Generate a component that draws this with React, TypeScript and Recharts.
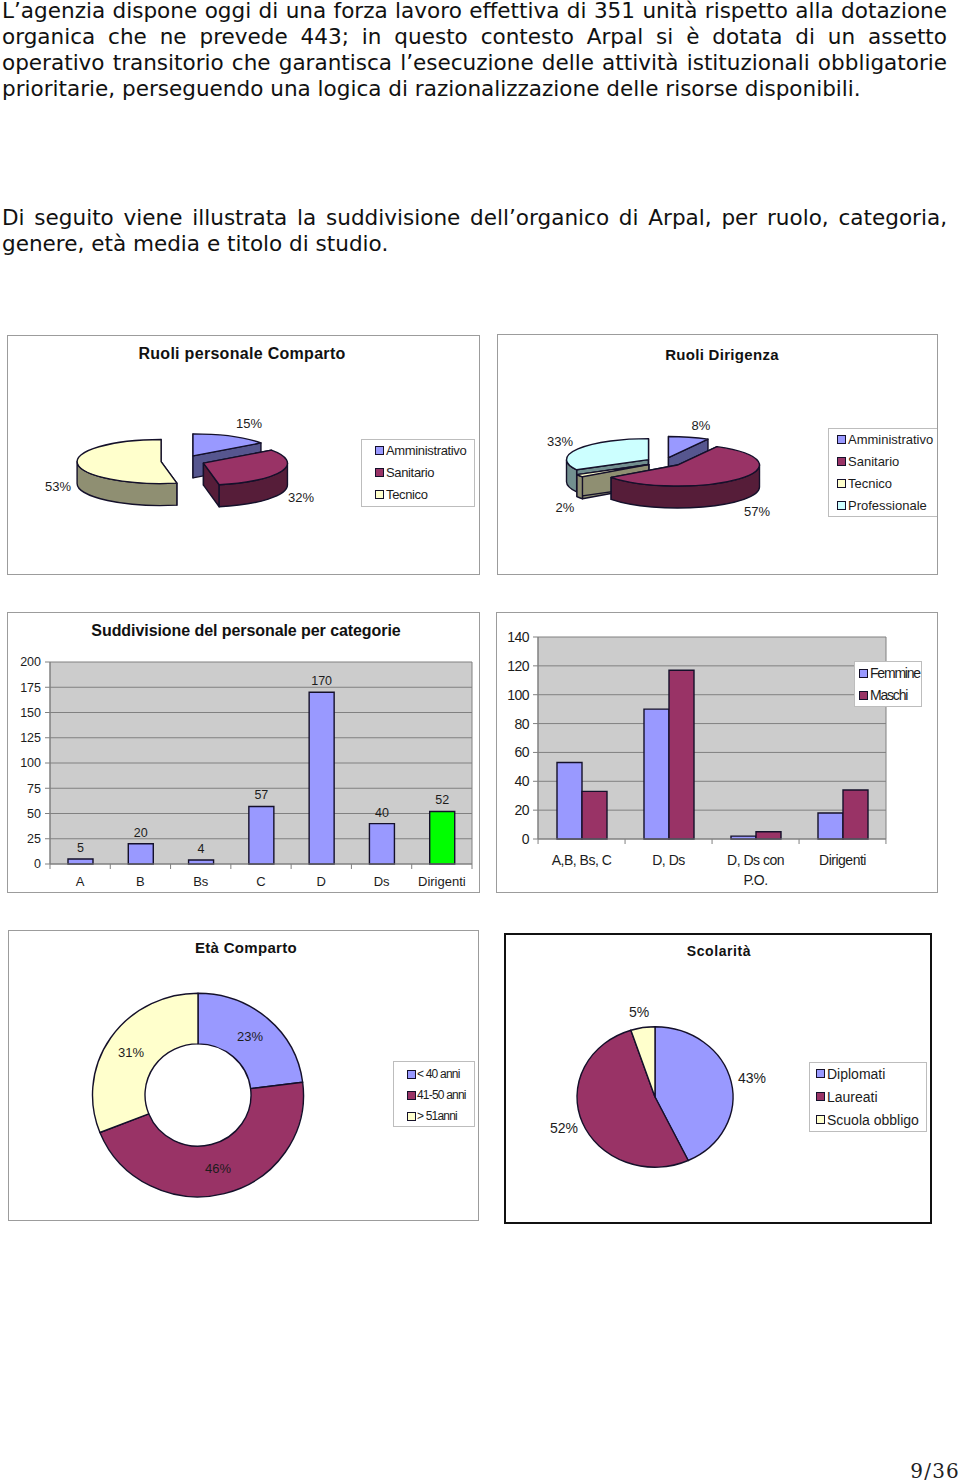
import { Bar, BarChart, CartesianGrid, Cell, LabelList, Legend, Pie, PieChart, Text, XAxis, YAxis } from "recharts";

const BLUE = "#9999FF";
const PLUM = "#993366";
const CREAM = "#FFFFCC";
const AQUA = "#CCFFFF";
const INK = "#1c1c1c";

const introLines = [
  "L’agenzia dispone oggi di una forza lavoro effettiva di 351 unità rispetto alla dotazione",
  "organica che ne prevede 443; in questo contesto Arpal si è dotata di un assetto",
  "operativo transitorio che garantisca l’esecuzione delle attività istituzionali obbligatorie",
  "prioritarie, perseguendo una logica di razionalizzazione delle risorse disponibili.",
];
const secondLines = [
  "Di seguito viene illustrata la suddivisione dell’organico di Arpal, per ruolo, categoria,",
  "genere, età media e titolo di studio.",
];

const compartoNames = ["Amministrativo", "Sanitario", "Tecnico"];
const compartoValues = [15, 32, 53];
const dirigenzaNames = ["Amministrativo", "Sanitario", "Tecnico", "Professionale"];
const dirigenzaValues = [8, 57, 2, 33];

const categoryNames = ["A", "B", "Bs", "C", "D", "Ds", "Dirigenti"];
const categoryValues = [5, 20, 4, 57, 170, 40, 52];
const categoryTicks = [0, 25, 50, 75, 100, 125, 150, 175, 200];

const genderGroups = ["A,B, Bs, C", "D, Ds", "D, Ds con P.O.", "Dirigenti"];
const femmine = [53, 90, 2, 18];
const maschi = [33, 117, 5, 34];
const genderTicks = [0, 20, 40, 60, 80, 100, 120, 140];

const etaNames = ["< 40 anni", "41-50 anni", "> 51anni"];
const etaValues = [23, 46, 31];
const scolaritaNames = ["Diplomati", "Laureati", "Scuola obbligo"];
const scolaritaValues = [43, 52, 5];

const toRows = (names: string[], values: number[]) => names.map((name, i) => ({ name, value: values[i] }));

function shade(hex: string, k: number) {
  const n = parseInt(hex.slice(1), 16);
  const c = [(n >> 16) & 255, (n >> 8) & 255, n & 255].map((v) => Math.round(v * k));
  return `rgb(${c[0]},${c[1]},${c[2]})`;
}

// pie slice on a tilted ellipse, with an optional wall below it
function tiltedSlice(colors: string[], tilt: number, depth: number, explode: number, only?: number) {
  return (props: any) => {
    const { cx, cy, innerRadius, outerRadius, startAngle, endAngle, index } = props;
    if (only !== undefined && index !== only) return <g />;
    const fill = colors[index];
    const rad = Math.PI / 180;
    const a0 = 90 - startAngle;
    const a1 = 90 - endAngle;
    const mid = (a0 + a1) / 2;
    const ox = cx + explode * Math.sin(mid * rad);
    const oy = cy - explode * tilt * Math.cos(mid * rad);
    const pt = (a: number, r: number, drop = 0) =>
      `${ox + r * Math.sin(a * rad)} ${oy - r * tilt * Math.cos(a * rad) + drop}`;
    const R = outerRadius;
    const large = a1 - a0 > 180 ? 1 : 0;
    let top = `M${pt(a0, R)} A${R} ${R * tilt} 0 ${large} 1 ${pt(a1, R)}`;
    if (innerRadius > 0) {
      top += ` L${pt(a1, innerRadius)} A${innerRadius} ${innerRadius * tilt} 0 ${large} 0 ${pt(a0, innerRadius)} Z`;
    } else {
      top += ` L${pt(0, 0)} Z`;
    }
    const side = shade(fill, 0.56);
    const w0 = Math.max(a0, 90);
    const w1 = Math.min(a1, 270);
    return (
      <g stroke="#14102a" strokeWidth={1.4} strokeLinejoin="round">
        {depth > 0 && (
          <>
            <path fill={side} d={`M${pt(0, 0)} L${pt(a0, R)} L${pt(a0, R, depth)} L${pt(0, 0, depth)} Z`} />
            <path fill={side} d={`M${pt(0, 0)} L${pt(a1, R)} L${pt(a1, R, depth)} L${pt(0, 0, depth)} Z`} />
            {w0 < w1 && (
              <path
                fill={side}
                d={`M${pt(w0, R)} A${R} ${R * tilt} 0 0 1 ${pt(w1, R)} L${pt(w1, R, depth)} A${R} ${R * tilt} 0 0 0 ${pt(w0, R, depth)} Z`}
              />
            )}
          </>
        )}
        <path fill={fill} d={top} />
      </g>
    );
  };
}

function percentLabel(nudges: number[][], size = 13) {
  return (props: any) => (
    <text
      x={props.cx + nudges[props.index][0]}
      y={props.cy + nudges[props.index][1]}
      textAnchor="middle"
      dominantBaseline="central"
      fontSize={size}
      fill={INK}
    >
      {props.value}%
    </text>
  );
}

function LegendBox(props: any) {
  const { payload, colors, rowH, pad, gap, fontSize, spacing, shift } = props;
  // the extra Pie layers repeat every name
  const entries = payload.filter((e: any, i: number) => payload.findIndex((o: any) => o.value === e.value) === i);
  return (
    <div style={{ border: "1px solid #bdbdbd", background: "#fff", boxSizing: "border-box", height: "100%" }}>
      {entries.map((entry: any, i: number) => (
        <div
          key={entry.value}
          style={{ height: rowH, position: "relative", top: shift, display: "flex", alignItems: "center", paddingLeft: pad, fontSize, letterSpacing: spacing, color: INK, whiteSpace: "nowrap" }}
        >
          <span style={{ width: 9, height: 9, marginRight: gap, flex: "none", background: colors[i], border: "1px solid #14102a", boxSizing: "border-box" }} />
          {entry.value}
        </div>
      ))}
    </div>
  );
}

function placedLegend(box: number[], colors: string[], rowH: number, pad: number, gap: number, fontSize: number, spacing: number, shift = -1) {
  return (
    <Legend
      layout="vertical"
      align="center"
      verticalAlign="middle"
      itemSorter={null}
      wrapperStyle={{ left: box[0], top: box[1], width: box[2], height: box[3], margin: 0 }}
      content={(p: any) => <LegendBox {...p} colors={colors} rowH={rowH} pad={pad} gap={gap} fontSize={fontSize} spacing={spacing} shift={shift} />}
    />
  );
}

function Panel({ x, y, w, h, title, titleY, titleX, titleSize = 16, titleSpacing = 0.3, border = "1px solid #9c9c9c", children }: any) {
  return (
    <div style={{ position: "absolute", left: x, top: y, width: w, height: h, background: "#fff" }}>
      {children}
      <div style={{ position: "absolute", inset: 0, border, boxSizing: "border-box", pointerEvents: "none" }} />
      {title && (
        <div
          style={{ position: "absolute", left: titleX - 200, width: 400, top: titleY - 12, lineHeight: "24px", textAlign: "center", fontSize: titleSize, fontWeight: 700, letterSpacing: titleSpacing, color: "#111" }}
        >
          {title}
        </div>
      )}
    </div>
  );
}

// category label plus the tick marks that sit between the bands
function bandTick(band: number, count: number, textOffset: number, size: number, wrap: number) {
  return (props: any) => {
    const { x, y, payload, index } = props;
    const top = y - 8;
    return (
      <g>
        <line x1={x - band / 2} x2={x - band / 2} y1={top} y2={top + 5} stroke="#808080" />
        {index === count - 1 && <line x1={x + band / 2} x2={x + band / 2} y1={top} y2={top + 5} stroke="#808080" />}
        <Text x={x} y={top + textOffset} width={wrap} textAnchor="middle" verticalAnchor="middle" fontSize={size} fill={INK} lineHeight={20}>
          {payload.value}
        </Text>
      </g>
    );
  };
}

const plotEdges = ({ offset }: any) => [offset.left, offset.left + offset.width];

function CategoryBars() {
  const rows = toRows(categoryNames, categoryValues);
  return (
    <BarChart width={473} height={281} data={rows} margin={{ top: 50, right: 8, bottom: 0, left: 0 }} barSize={25}>
      <CartesianGrid fill="#CCCCCC" stroke="#808080" verticalCoordinatesGenerator={plotEdges} />
      <XAxis dataKey="name" interval={0} height={29} stroke="#808080" tickLine={false} tick={bandTick(60.3, 7, 22, 13, 80)} />
      <YAxis width={43} domain={[0, 200]} ticks={categoryTicks} interval={0} stroke="#808080" tickSize={5} tickMargin={4} tick={{ fill: INK, fontSize: 12.5 }} />
      <Bar dataKey="value" fill={BLUE} stroke="#14102a" strokeWidth={1.4} isAnimationActive={false}>
        {rows.map((row) => (
          <Cell key={row.name} fill={row.name === "Dirigenti" ? "#00FF00" : BLUE} />
        ))}
        <LabelList dataKey="value" position="top" offset={7} fill={INK} fontSize={12.5} />
      </Bar>
    </BarChart>
  );
}

function GenderBars() {
  const rows = genderGroups.map((name, i) => ({ name, Femmine: femmine[i], Maschi: maschi[i] }));
  return (
    <div style={{ letterSpacing: -0.5 }}>
      <BarChart width={442} height={281} data={rows} margin={{ top: 25, right: 52, bottom: 0, left: 0 }} barSize={25} barGap={0}>
        <CartesianGrid fill="#CCCCCC" stroke="#808080" verticalCoordinatesGenerator={plotEdges} />
        <XAxis dataKey="name" interval={0} height={54} stroke="#808080" tickLine={false} tick={bandTick(86.9, 4, 26, 14, 78)} />
        <YAxis width={42} domain={[0, 140]} ticks={genderTicks} interval={0} stroke="#808080" tickSize={5} tickMargin={4} tick={{ fill: INK, fontSize: 14 }} />
        <Bar dataKey="Femmine" fill={BLUE} stroke="#14102a" strokeWidth={1.4} isAnimationActive={false} />
        <Bar dataKey="Maschi" fill={PLUM} stroke="#14102a" strokeWidth={1.4} isAnimationActive={false} />
        {placedLegend([358, 49, 68, 46], [BLUE, PLUM], 22, 4, 2, 14, -1.2, 0)}
      </BarChart>
    </div>
  );
}

export default function App() {
  const compartoColors = [BLUE, PLUM, CREAM];
  const dirigenzaColors = [BLUE, PLUM, CREAM, AQUA];
  const dirigenzaOrder = [3, 2, 1];
  const textLine = (line: string, top: number, justify: boolean) => (
    <div
      key={line}
      style={{ position: "absolute", left: 2, width: 945, top, lineHeight: "21px", fontSize: 21.55, fontFamily: "'DejaVu Sans'", color: "#111", textAlign: "justify", textAlignLast: justify ? "justify" : "left" }}
    >
      {line}
    </div>
  );
  return (
    <div style={{ position: "absolute", left: 0, top: 0, width: 960, height: 1483, overflow: "hidden", background: "#fff", fontFamily: "'Liberation Sans'" }}>
      {introLines.map((line, i) => textLine(line, i * 26, i < 3))}
      {secondLines.map((line, i) => textLine(line, 207 + i * 26, i < 1))}

      <Panel x={7} y={335} w={473} h={240} title="Ruoli personale Comparto" titleX={235} titleY={19}>
        <PieChart width={473} height={240} margin={{ top: 0, right: 0, bottom: 0, left: 0 }}>
          <Pie
            data={toRows(compartoNames, compartoValues)}
            dataKey="value"
            nameKey="name"
            cx={176}
            cy={126}
            outerRadius={84}
            startAngle={90}
            endAngle={-270}
            isAnimationActive={false}
            shape={tiltedSlice(compartoColors, 0.262, 22, 22)}
            labelLine={false}
            label={percentLabel([[66, -38], [118, 36], [-125, 25]])}
          />
          {placedLegend([354, 104, 114, 68], compartoColors, 22, 13, 2, 13, -0.35)}
        </PieChart>
      </Panel>

      <Panel x={497} y={334} w={441} h={241} title="Ruoli Dirigenza" titleX={225} titleY={21} titleSize={15}>
        <PieChart width={441} height={241} margin={{ top: 0, right: 0, bottom: 0, left: 0 }}>
          <Pie
            data={toRows(dirigenzaNames, dirigenzaValues)}
            dataKey="value"
            nameKey="name"
            cx={167}
            cy={128}
            outerRadius={82}
            startAngle={90}
            endAngle={-270}
            isAnimationActive={false}
            shape={tiltedSlice(dirigenzaColors, 0.256, 22, 18, 0)}
            labelLine={false}
            label={percentLabel([[37, -37], [93, 49], [-99, 45], [-104, -21]])}
          />
          {dirigenzaOrder.map((i) => (
            <Pie
              key={i}
              data={toRows(dirigenzaNames, dirigenzaValues)}
              dataKey="value"
              nameKey="name"
              cx={167}
              cy={128}
              outerRadius={82}
              startAngle={90}
              endAngle={-270}
              legendType="none"
              isAnimationActive={false}
              shape={tiltedSlice(dirigenzaColors, 0.256, 22, 18, i)}
            />
          ))}
          {placedLegend([331, 94, 110, 89], dirigenzaColors, 22, 8, 2, 13, 0, -0.5)}
        </PieChart>
      </Panel>

      <Panel x={7} y={612} w={473} h={281} title="Suddivisione del personale per categorie" titleX={239} titleY={19} titleSpacing={-0.07}>
        <CategoryBars />
      </Panel>
      <Panel x={496} y={612} w={442} h={281}>
        <GenderBars />
      </Panel>

      <Panel x={8} y={930} w={471} h={291} title="Età Comparto" titleX={238} titleY={18} titleSize={15}>
        <PieChart width={471} height={291} margin={{ top: 0, right: 0, bottom: 0, left: 0 }}>
          <Pie
            data={toRows(etaNames, etaValues)}
            dataKey="value"
            nameKey="name"
            cx={190}
            cy={165}
            innerRadius={53}
            outerRadius={105.5}
            startAngle={90}
            endAngle={-270}
            isAnimationActive={false}
            shape={tiltedSlice(compartoColors, 0.965, 0, 0)}
            labelLine={false}
            label={percentLabel([[52, -59], [20, 73], [-67, -43]])}
          />
          {placedLegend([385, 131, 82, 66], compartoColors, 21, 13, 1, 12, -0.8, 1.5)}
        </PieChart>
      </Panel>

      <Panel x={504} y={933} w={428} h={291} title="Scolarità" titleX={215} titleY={18} titleSize={14} titleSpacing={0.6} border="2px solid #111">
        <PieChart width={428} height={291} margin={{ top: 0, right: 0, bottom: 0, left: 0 }}>
          <Pie
            data={toRows(scolaritaNames, scolaritaValues)}
            dataKey="value"
            nameKey="name"
            cx={151}
            cy={164}
            outerRadius={78}
            startAngle={90}
            endAngle={-270}
            isAnimationActive={false}
            shape={tiltedSlice(compartoColors, 0.9, 0, 0)}
            labelLine={false}
            label={percentLabel([[97, -19], [-91, 31], [-16, -85]], 14)}
          />
          {placedLegend([305, 129, 118, 70], compartoColors, 23, 6, 2, 14, 0, -1)}
        </PieChart>
      </Panel>

      <div style={{ position: "absolute", right: 0, top: 1459, fontFamily: "'DejaVu Serif'", fontSize: 20, letterSpacing: 1.2, color: "#222" }}>9/36</div>
    </div>
  );
}
